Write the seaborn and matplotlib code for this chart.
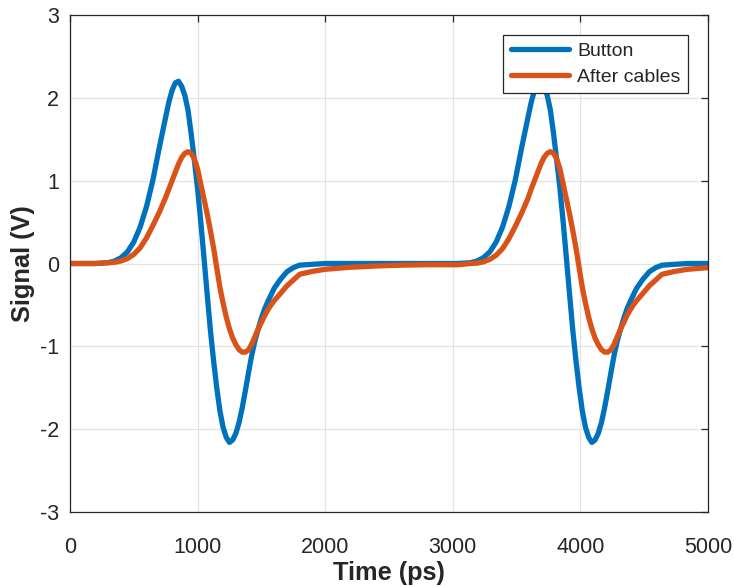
import matplotlib
matplotlib.use("Agg")
import matplotlib.pyplot as plt
import pandas as pd
import seaborn as sns

# Sample times (ps) of the two pulses
time_ps = [
    0, 100, 200, 300, 350, 400, 450, 500, 550, 600, 650, 700, 750,
    775, 800, 825, 850, 875, 900, 925, 950, 975, 1000, 1025, 1050, 1075,
    1100, 1125, 1150, 1175, 1200, 1225, 1250, 1275, 1300, 1325, 1350, 1375,
    1400, 1425, 1450, 1475, 1500, 1525, 1550, 1575, 1600,
    1650, 1700, 1750, 1800, 1900, 2000, 2200, 2400, 2600, 2800,
    3040, 3140, 3190, 3240, 3290, 3340, 3390, 3440, 3490, 3540, 3590,
    3615, 3640, 3665, 3690, 3715, 3740, 3765, 3790, 3815, 3840, 3865, 3890,
    3915, 3940, 3965, 3990, 4015, 4040, 4065, 4090, 4115, 4140, 4165, 4190,
    4215, 4240, 4265, 4290, 4315, 4340, 4365, 4390, 4415, 4440,
    4490, 4540, 4590, 4640, 4740, 4840, 5000,
]

# Signal at the button pickup (V)
button_v = [
    0.00, 0.00, 0.00, 0.01, 0.03, 0.07, 0.14, 0.26, 0.44, 0.69, 1.01, 1.40, 1.77,
    1.95, 2.09, 2.18, 2.20, 2.14, 2.03, 1.85, 1.56, 1.24, 0.90, 0.50, 0.07, -0.37,
    -0.80, -1.17, -1.50, -1.78, -1.98, -2.10, -2.16, -2.13, -2.05, -1.92, -1.74, -1.53,
    -1.31, -1.10, -0.93, -0.79, -0.66, -0.55, -0.46, -0.38, -0.30,
    -0.19, -0.10, -0.05, -0.02, -0.01, 0.00, 0.00, 0.00, 0.00, 0.00,
    0.00, 0.01, 0.03, 0.07, 0.14, 0.26, 0.44, 0.69, 1.01, 1.40, 1.77,
    1.95, 2.09, 2.18, 2.20, 2.14, 2.03, 1.85, 1.56, 1.24, 0.90, 0.50, 0.07,
    -0.37, -0.80, -1.17, -1.50, -1.78, -1.98, -2.10, -2.16, -2.13, -2.05, -1.92, -1.74,
    -1.53, -1.31, -1.10, -0.93, -0.79, -0.66, -0.55, -0.46, -0.38, -0.30,
    -0.19, -0.10, -0.05, -0.02, -0.01, 0.00, 0.00,
]

# Signal after the cables (V)
after_cables_v = [
    0.00, 0.00, 0.00, 0.01, 0.015, 0.03, 0.06, 0.11, 0.19, 0.31, 0.46, 0.62, 0.80,
    0.90, 1.00, 1.10, 1.20, 1.28, 1.33, 1.35, 1.33, 1.26, 1.14, 0.96, 0.78, 0.60,
    0.40, 0.19, -0.05, -0.29, -0.48, -0.65, -0.79, -0.90, -0.98, -1.04, -1.07, -1.07,
    -1.04, -0.97, -0.88, -0.79, -0.71, -0.63, -0.56, -0.50, -0.45,
    -0.36, -0.27, -0.20, -0.13, -0.095, -0.07, -0.045, -0.03, -0.02, -0.015,
    -0.015, 0.00, 0.005, 0.02, 0.05, 0.10, 0.18, 0.30, 0.45, 0.61, 0.79,
    0.90, 1.00, 1.10, 1.20, 1.28, 1.33, 1.35, 1.33, 1.26, 1.14, 0.96, 0.78,
    0.60, 0.40, 0.19, -0.05, -0.29, -0.48, -0.65, -0.79, -0.90, -0.98, -1.04, -1.07,
    -1.07, -1.04, -0.97, -0.88, -0.79, -0.71, -0.63, -0.56, -0.50, -0.45,
    -0.36, -0.27, -0.20, -0.13, -0.095, -0.07, -0.05,
]

series_names = ["Button", "After cables"]
series_colors = ["#0072BD", "#D95319"]
x_ticks = [0, 1000, 2000, 3000, 4000, 5000]
y_ticks = [-3, -2, -1, 0, 1, 2, 3]

sns.set_theme(style="white")
plt.rcParams["font.family"] = ["Liberation Sans", "DejaVu Sans"]

n = len(time_ps)
df = pd.DataFrame({
    "t": time_ps * 2,
    "v": button_v + after_cables_v,
    "series": [series_names[0]] * n + [series_names[1]] * n,
})

W, H = 734, 586
fig = plt.figure(figsize=(W / 100, H / 100), dpi=100)
ax = fig.add_axes([70 / W, (H - 512) / H, 638 / W, 497 / H])

sns.lineplot(
    data=df, x="t", y="v", hue="series", hue_order=series_names,
    palette=series_colors, linewidth=3.8, sort=False, estimator=None,
    ax=ax, legend=False,
)
for line in ax.get_lines():
    line.set_solid_joinstyle("round")
    line.set_solid_capstyle("round")

ax.set_xlim(0, 5000)
ax.set_ylim(-3, 3)
ax.set_xticks(x_ticks)
ax.set_yticks(y_ticks)
ax.set_xticklabels([str(v) for v in x_ticks])
ax.set_yticklabels([str(v) for v in y_ticks])

ax.grid(True, color="#e3e3e3", linewidth=0.9)
ax.set_axisbelow(True)
for side in ["left", "right", "top", "bottom"]:
    ax.spines[side].set_visible(True)
    ax.spines[side].set_color("#262626")
    ax.spines[side].set_linewidth(0.9)

ax.tick_params(
    axis="both", direction="in", length=5, width=0.9, top=True, right=True,
    labeltop=False, labelright=False, color="#262626",
    labelcolor="#262626", labelsize=15.5,
)
ax.tick_params(axis="y", pad=8)
ax.tick_params(axis="x", pad=18)

ax.set_xlabel("Time (ps)", fontsize=18.3, fontweight="bold", color="#262626", labelpad=2)
ax.set_ylabel("Signal (V)", fontsize=18.3, fontweight="bold", color="#262626", labelpad=3)

handles = ax.get_lines()[:2]
leg = ax.legend(
    handles, series_names, loc="upper right",
    bbox_to_anchor=(688 / W, (H - 35) / H), bbox_transform=fig.transFigure,
    frameon=True, fancybox=False, fontsize=14, handlelength=3.0,
    handletextpad=0.4, borderpad=0.39, labelspacing=0.41, borderaxespad=0,
)
leg.get_frame().set_edgecolor("#262626")
leg.get_frame().set_linewidth(0.9)
leg.get_frame().set_alpha(1)

fig.savefig("out.png", dpi=100)
